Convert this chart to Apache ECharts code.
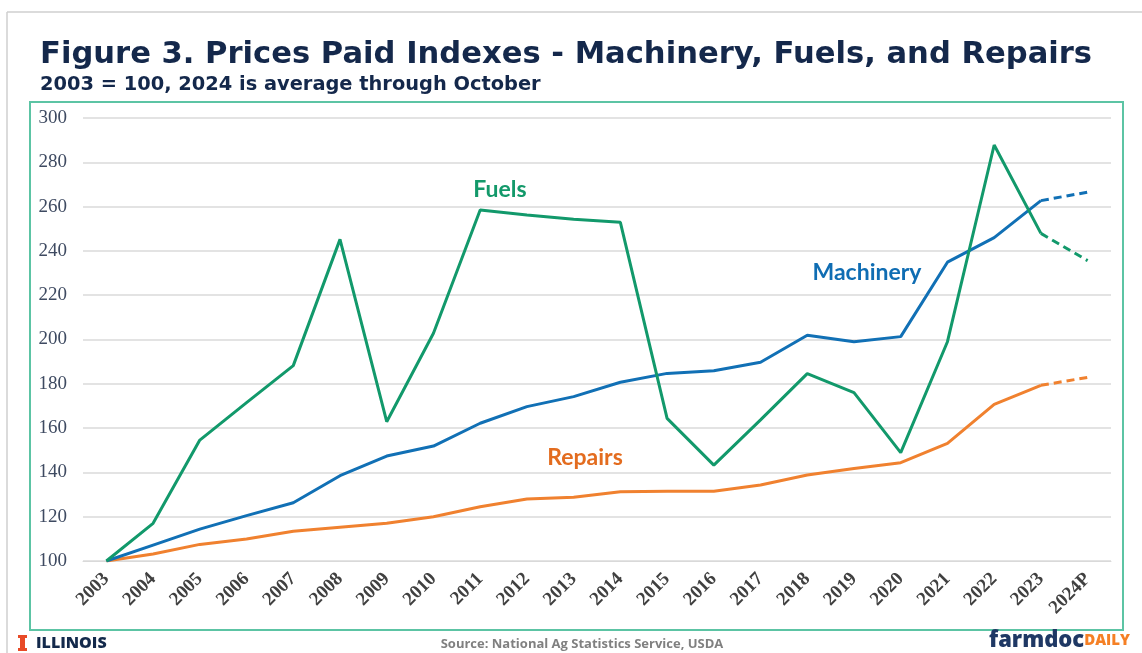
<!DOCTYPE html>
<html>
<head>
<meta charset="utf-8">
<script src="https://cdn.jsdelivr.net/npm/echarts@6/dist/echarts.min.js"></script>
<style>
  html, body { margin: 0; padding: 0; background: #fff; }
  #chart { width: 1142px; height: 653px; }
</style>
</head>
<body>
<div id="chart"></div>
<script>
const years = ['2003', '2004', '2005', '2006', '2007', '2008', '2009', '2010', '2011', '2012', '2013',
  '2014', '2015', '2016', '2017', '2018', '2019', '2020', '2021', '2022', '2023', '2024P']

const fuels = [100, 117, 154.6, 171.5, 188.2, 245.2, 162.9, 202.8, 258.5, 256.2, 254.3,
  252.9, 164.4, 143.3, 163.7, 184.6, 176, 148.9, 199, 287.8, 247.9, 235.6]
const machinery = [100, 107.2, 114.4, 120.5, 126.3, 138.5, 147.4, 151.9, 162.2, 169.7, 174.2,
  180.7, 184.7, 185.9, 189.7, 201.9, 199, 201.3, 234.9, 246, 262.7, 266.5]
const repairs = [100, 103.2, 107.5, 109.9, 113.4, 115.2, 117, 120, 124.5, 128, 128.8,
  131.3, 131.5, 131.5, 134.3, 138.8, 141.8, 144.4, 153.1, 170.7, 179.3, 182.9]

const yTicks = { min: 100, max: 300, step: 20 }

const GREEN = '#12996b'
const BLUE = '#1170b5'
const ORANGE = '#f0812f'

// last point (2024P) is preliminary -> drawn dashed
const solidPart = arr => arr.map((v, i) => (i < arr.length - 1 ? v : null))
const dashPart = arr => arr.map((v, i) => (i >= arr.length - 2 ? v : null))

const chart = echarts.init(document.getElementById('chart'))

const lineSeries = (name, data, color, dashed) => ({
  name,
  type: 'line',
  data: dashed ? dashPart(data) : solidPart(data),
  symbol: 'none',
  lineStyle: { color, width: 3, type: dashed ? [8, 5] : 'solid' },
  itemStyle: { color },
  connectNulls: false,
  animation: false
})

const option = {
  backgroundColor: '#fff',
  animation: false,
  grid: { left: 83, right: 31, top: 118, bottom: 92 },
  xAxis: {
    type: 'category',
    data: years,
    boundaryGap: true,
    axisLine: { show: true, lineStyle: { color: '#d9d9d9', width: 1 } },
    axisTick: { show: false },
    axisLabel: {
      rotate: 45,
      interval: 0,
      margin: 15,
      color: '#404040',
      fontFamily: 'Liberation Serif',
      fontWeight: 'bold',
      fontSize: 19
    }
  },
  yAxis: {
    type: 'value',
    min: yTicks.min,
    max: yTicks.max,
    interval: yTicks.step,
    axisLine: { show: false },
    axisTick: { show: false },
    splitLine: { lineStyle: { color: '#e3e3e3', width: 2 } },
    axisLabel: {
      margin: 16,
      color: '#3e4a61',
      fontFamily: 'Liberation Serif',
      fontSize: 19
    }
  },
  series: [
    lineSeries('Repairs', repairs, ORANGE, false),
    lineSeries('Repairs', repairs, ORANGE, true),
    lineSeries('Machinery', machinery, BLUE, false),
    lineSeries('Machinery', machinery, BLUE, true),
    lineSeries('Fuels', fuels, GREEN, false),
    lineSeries('Fuels', fuels, GREEN, true)
  ],
  graphic: [
    // screenshot frame and chart box
    { type: 'line', shape: { x1: 7, y1: 12, x2: 1142, y2: 12 }, style: { stroke: '#cfcfcf', lineWidth: 1.5 }, z: -1 },
    { type: 'line', shape: { x1: 7, y1: 12, x2: 7, y2: 653 }, style: { stroke: '#cfcfcf', lineWidth: 1.5 }, z: -1 },
    { type: 'rect', shape: { x: 30, y: 102, width: 1093, height: 528 }, style: { fill: 'none', stroke: '#5cc4a4', lineWidth: 2 }, z: -1 },
    {
      type: 'text', x: 40, y: 40,
      style: { text: 'Figure 3. Prices Paid Indexes - Machinery, Fuels, and Repairs', fill: '#14284b', font: 'bold 30.6px "DejaVu Sans"' }
    },
    {
      type: 'text', x: 40, y: 75,
      style: { text: '2003 = 100, 2024 is average through October', fill: '#14284b', font: 'bold 19.4px "DejaVu Sans"' }
    },
    // series labels
    { type: 'text', x: 500, y: 190, style: { text: 'Fuels', fill: '#13996a', font: 'bold 23px Lato', align: 'center', verticalAlign: 'middle' } },
    { type: 'text', x: 867, y: 273, style: { text: 'Machinery', fill: '#0f6db3', font: 'bold 23px Lato', align: 'center', verticalAlign: 'middle' } },
    { type: 'text', x: 585, y: 458, style: { text: 'Repairs', fill: '#e36c1f', font: 'bold 23px Lato', align: 'center', verticalAlign: 'middle' } },
    // footer
    { type: 'rect', shape: { x: 18, y: 635, width: 9, height: 3 }, style: { fill: '#e84a27' } },
    { type: 'rect', shape: { x: 20, y: 638, width: 5, height: 10 }, style: { fill: '#e84a27' } },
    { type: 'rect', shape: { x: 18, y: 648, width: 9, height: 3 }, style: { fill: '#e84a27' } },
    { type: 'text', x: 36, y: 643, style: { text: 'ILLINOIS', fill: '#13294b', font: '800 16px "Open Sans"', verticalAlign: 'middle' } },
    { type: 'text', x: 582, y: 644, style: { text: 'Source: National Ag Statistics Service, USDA', fill: '#808080', font: 'bold 13px "Open Sans"', align: 'center', verticalAlign: 'middle' } },
    {
      type: 'text', x: 1130, y: 652,
      style: {
        text: '{a|farmdoc}{b|DAILY}', align: 'right', verticalAlign: 'bottom',
        rich: {
          a: { fill: '#1f3864', font: '800 22px "Open Sans"' },
          b: { fill: '#f58025', font: '800 15px "Open Sans"' }
        }
      }
    }
  ]
}

chart.setOption(option)
</script>
</body>
</html>
